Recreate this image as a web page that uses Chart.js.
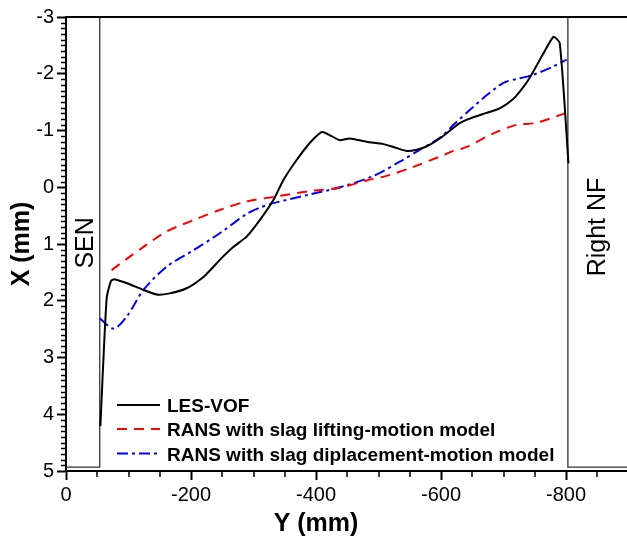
<!DOCTYPE html>
<html>
<head>
<meta charset="utf-8">
<script src="https://cdn.jsdelivr.net/npm/chart.js@4.4.0/dist/chart.umd.min.js"></script>
<style>
  html, body { margin: 0; padding: 0; background: #fff; overflow: hidden; }
  #wrap { width: 640px; height: 539px; }
</style>
</head>
<body>
<div id="wrap"><canvas id="chart" width="640" height="539"></canvas></div>
<script>
// LES-VOF
const lesX = [-55, -65, -72, -77, -100, -124, -145, -166, -193, -220, -236, -246, -268, -289, -310, -332, -348, -369, -390, -406, -412, -425, -438, -454, -481, -508, -524, -545, -561, -577, -598, -630, -646, -673, -694, -716, -732, -742, -764, -780, -790, -804];
const lesY = [4.21, 1.96, 1.65, 1.62, 1.70, 1.81, 1.89, 1.87, 1.78, 1.58, 1.40, 1.28, 1.05, 0.87, 0.58, 0.22, -0.13, -0.48, -0.78, -0.95, -0.97, -0.90, -0.83, -0.86, -0.80, -0.76, -0.71, -0.64, -0.66, -0.72, -0.86, -1.13, -1.21, -1.31, -1.39, -1.56, -1.77, -1.93, -2.36, -2.65, -2.54, -0.42];

// RANS, slag lifting-motion
const liftX = [-73, -100, -124, -161, -204, -246, -289, -332, -396, -438, -481, -513, -556, -598, -620, -641, -684, -721, -750, -801];
const liftY = [1.46, 1.24, 1.05, 0.78, 0.58, 0.40, 0.25, 0.17, 0.06, 0.01, -0.12, -0.20, -0.36, -0.54, -0.64, -0.71, -0.95, -1.10, -1.13, -1.31];

// RANS, slag displacement-motion
const dispX = [-54, -76, -97, -124, -161, -204, -246, -289, -310, -332, -385, -438, -492, -534, -566, -598, -620, -650, -673, -700, -726, -747, -780, -801];
const dispY = [2.31, 2.49, 2.28, 1.81, 1.40, 1.11, 0.81, 0.47, 0.36, 0.28, 0.14, 0.00, -0.20, -0.45, -0.66, -0.87, -1.10, -1.40, -1.62, -1.84, -1.92, -1.98, -2.13, -2.25];

// SEN and right narrow face walls
const senX = [0, -54, -54];
const senY = [4.93, 4.93, -3];
const nfX = [-803, -803, -900];
const nfY = [-3, 4.93, 4.93];

// axes
const xTicks = [0, -200, -400, -600, -800];
const yTicks = [-3, -2, -1, 0, 1, 2, 3, 4, 5];
const seriesLabels = ['LES-VOF', 'RANS with slag lifting-motion model', 'RANS with slag diplacement-motion model'];

const FONT = 'Liberation Sans, Arial, sans-serif';
Chart.defaults.font.family = FONT;
Chart.defaults.color = '#000';

const toPoints = (xs, ys) => xs.map((x, i) => ({ x, y: ys[i] }));
const setTicks = (list) => (scale) => {
  scale.ticks = [...list].sort((a, b) => b - a).map((value) => ({ value }));
};

// minor ticks, frame top, legend, in-plot labels
const decor = {
  id: 'decor',
  afterDraw(chart) {
    const { ctx, chartArea: area, scales: { x, y } } = chart;
    ctx.save();
    ctx.strokeStyle = '#000';

    // top frame line
    ctx.lineWidth = 2;
    ctx.beginPath();
    ctx.moveTo(area.left - 1, area.top);
    ctx.lineTo(area.right, area.top);
    ctx.stroke();

    // minor ticks
    ctx.lineWidth = 1.5;
    ctx.beginPath();
    for (let i = -30; i <= 50; i++) {
      if (i % 10 === 0) continue;
      const py = Math.round(y.getPixelForValue(i / 10)) + 0.5;
      ctx.moveTo(area.left - 5, py);
      ctx.lineTo(area.left, py);
    }
    for (let v = 0; v >= -900; v -= 50) {
      if (v % 200 === 0) continue;
      const px = Math.round(x.getPixelForValue(v));
      ctx.moveTo(px, area.bottom);
      ctx.lineTo(px, area.bottom + 6);
    }
    ctx.stroke();

    // legend
    const sets = chart.data.datasets.slice(0, 3);
    const rowBase = [area.bottom - 59, area.bottom - 35, area.bottom - 10.5];
    ctx.font = 'bold 19px ' + FONT;
    ctx.textBaseline = 'alphabetic';
    ctx.textAlign = 'left';
    sets.forEach((ds, i) => {
      const ly = rowBase[i] - 7;
      ctx.strokeStyle = ds.borderColor;
      ctx.lineWidth = 2;
      ctx.setLineDash(ds.borderDash || []);
      ctx.beginPath();
      ctx.moveTo(area.left + 51, ly);
      ctx.lineTo(area.left + 94, ly);
      ctx.stroke();
      ctx.setLineDash([]);
      ctx.fillStyle = '#000';
      ctx.fillText(ds.label, area.left + 101, rowBase[i]);
    });

    // wall labels
    ctx.font = '25px ' + FONT;
    ctx.textAlign = 'center';
    const vText = (text, px, py) => {
      ctx.save();
      ctx.translate(px, py);
      ctx.rotate(-Math.PI / 2);
      ctx.fillText(text, 0, 0);
      ctx.restore();
    };
    vText('SEN', x.getPixelForValue(-27) + 10, y.getPixelForValue(0.98));
    vText('Right NF', x.getPixelForValue(-847) + 10, y.getPixelForValue(0.7));

    // x axis title
    ctx.font = 'bold 25px ' + FONT;
    ctx.fillText('Y (mm)', x.getPixelForValue(-400), area.bottom + 60);
    ctx.restore();
  }
};

new Chart(document.getElementById('chart'), {
  type: 'line',
  data: {
    datasets: [
      {
        label: seriesLabels[0],
        data: toPoints(lesX, lesY),
        borderColor: '#000000',
        borderWidth: 2,
        tension: 0.2
      },
      {
        label: seriesLabels[1],
        data: toPoints(liftX, liftY),
        borderColor: '#ff0000',
        borderWidth: 2,
        borderDash: [10, 7],
        tension: 0.3
      },
      {
        label: seriesLabels[2],
        data: toPoints(dispX, dispY),
        borderColor: '#0000ff',
        borderWidth: 2,
        borderDash: [11, 4, 3, 4],
        tension: 0.3
      },
      {
        label: 'SEN',
        data: toPoints(senX, senY),
        borderColor: '#333333',
        borderWidth: 1.3,
        tension: 0
      },
      {
        label: 'NF',
        data: toPoints(nfX, nfY),
        borderColor: '#333333',
        borderWidth: 1.3,
        tension: 0
      }
    ]
  },
  options: {
    responsive: false,
    animation: false,
    elements: { point: { radius: 0 } },
    layout: { padding: { top: 17, left: 0, right: 11.5, bottom: 0 } },
    plugins: {
      legend: { display: false },
      tooltip: { enabled: false }
    },
    scales: {
      x: {
        type: 'linear',
        min: -900,
        max: 0,
        reverse: true,
        afterBuildTicks: setTicks(xTicks),
        afterFit: (scale) => { scale.height = 68; },
        ticks: { font: { size: 20 }, color: '#000', padding: 3, maxRotation: 0 },
        grid: { drawOnChartArea: false, tickLength: 9, tickWidth: 2, tickColor: '#000' },
        border: { color: '#000', width: 2 }
      },
      y: {
        type: 'linear',
        min: -3,
        max: 5,
        reverse: true,
        afterBuildTicks: setTicks(yTicks),
        afterFit: (scale) => { scale.width = 66; },
        ticks: { font: { size: 20 }, color: '#000', padding: 3 },
        grid: { drawOnChartArea: false, tickLength: 9, tickWidth: 2, tickColor: '#000' },
        border: { color: '#000', width: 2 },
        title: {
          display: true,
          text: 'X (mm)',
          font: { size: 25, weight: 'bold' },
          color: '#000',
          padding: { top: 7, bottom: 0 }
        }
      }
    }
  },
  plugins: [decor]
});
</script>
</body>
</html>
